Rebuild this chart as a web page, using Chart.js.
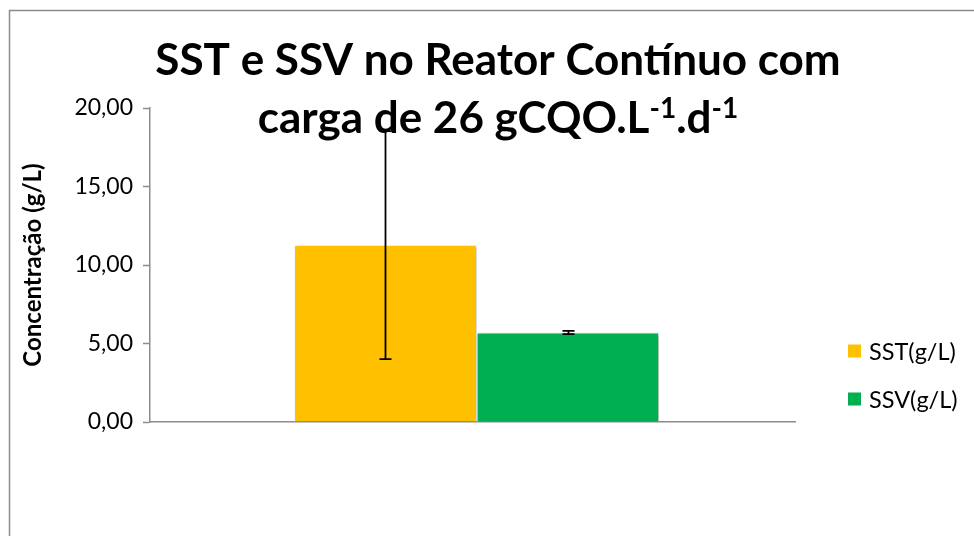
<!DOCTYPE html>
<html>
<head>
<meta charset="utf-8">
<script src="https://cdn.jsdelivr.net/npm/chart.js@4.4.0/dist/chart.umd.min.js"></script>
<style>
  body { margin: 0; background: #fff; }
</style>
</head>
<body>
<canvas id="graficoSST" width="974" height="536"></canvas>
<script>
// dados
var categorias = [''];
var series = ['SST(g/L)', 'SSV(g/L)'];
var valoresSST = [11.27];
var valoresSSV = [5.70];
var erroSST = [7.26];
var erroSSV = [0.10];
var ticksY = [0, 5, 10, 15, 20];
var tituloLinha1 = 'SST e SSV no Reator Contínuo com';
// pedacos da segunda linha: [texto, sobrescrito]
var tituloLinha2 = [['carga de 26 gCQO.L', false], ['-1', true], ['.d', false], ['-1', true]];
var tituloEixoY = 'Concentração (g/L)';

var cores = ['#FFC000', '#00B050'];
var erros = [erroSST, erroSSV];
var fonte = 'Lato';

// moldura do grafico (so aparece esquerda e topo)
var moldura = {
  id: 'moldura',
  beforeDraw: function(chart) {
    var ctx = chart.ctx;
    ctx.save();
    ctx.fillStyle = '#fff';
    ctx.fillRect(0, 0, chart.width, chart.height);
    ctx.strokeStyle = '#8c8c8c';
    ctx.lineWidth = 1.5;
    ctx.strokeRect(9.5, 10.5, 1000, 600);
    ctx.restore();
  }
};

// sombra das barras
var sombra = {
  id: 'sombra',
  beforeDatasetDraw: function(chart) {
    var ctx = chart.ctx;
    ctx.save();
    ctx.shadowColor = 'rgba(0,0,0,0.3)';
    ctx.shadowBlur = 4;
    ctx.shadowOffsetX = 2;
    ctx.shadowOffsetY = 1;
  },
  afterDatasetDraw: function(chart) {
    chart.ctx.restore();
  }
};

// barras de erro
var barrasErro = {
  id: 'barrasErro',
  afterDatasetsDraw: function(chart) {
    var ctx = chart.ctx;
    var y = chart.scales.y;
    ctx.save();
    ctx.strokeStyle = '#000';
    ctx.lineWidth = 1.8;
    chart.data.datasets.forEach(function(ds, d) {
      var meta = chart.getDatasetMeta(d);
      meta.data.forEach(function(barra, i) {
        var v = ds.data[i];
        var e = erros[d][i];
        var x = Math.round(barra.x) + 0.5;
        var yAlto = y.getPixelForValue(v + e);
        var yBaixo = y.getPixelForValue(v - e);
        ctx.beginPath();
        ctx.moveTo(x, yAlto);
        ctx.lineTo(x, yBaixo);
        ctx.moveTo(x - 6, yAlto);
        ctx.lineTo(x + 6, yAlto);
        ctx.moveTo(x - 6, yBaixo);
        ctx.lineTo(x + 6, yBaixo);
        ctx.stroke();
      });
    });
    ctx.restore();
  }
};

// titulo com sobrescritos e legenda
var tituloLegenda = {
  id: 'tituloLegenda',
  afterDraw: function(chart) {
    var ctx = chart.ctx;
    ctx.save();
    ctx.fillStyle = '#000';
    ctx.textBaseline = 'alphabetic';
    var centro = 498;
    ctx.font = 'bold 44px ' + fonte;
    ctx.textAlign = 'center';
    ctx.fillText(tituloLinha1, centro, 75);

    // segunda linha
    var larguras = tituloLinha2.map(function(p) {
      ctx.font = (p[1] ? 'bold 28px ' : 'bold 44px ') + fonte;
      return ctx.measureText(p[0]).width;
    });
    var total = larguras.reduce(function(a, b) { return a + b; }, 0);
    var x = centro - total / 2;
    ctx.textAlign = 'left';
    tituloLinha2.forEach(function(p, i) {
      ctx.font = (p[1] ? 'bold 28px ' : 'bold 44px ') + fonte;
      ctx.fillText(p[0], x, p[1] ? 118 : 133);
      x += larguras[i];
    });

    // legenda
    ctx.font = '23.5px ' + fonte;
    ctx.textBaseline = 'middle';
    chart.data.datasets.forEach(function(ds, d) {
      var yc = 351 + d * 48;
      ctx.fillStyle = ds.backgroundColor;
      ctx.fillRect(848, yc - 6.5, 13, 13);
      ctx.fillStyle = '#000';
      ctx.fillText(ds.label, 869, yc + 1);
    });
    ctx.restore();
  }
};

var ctx = document.getElementById('graficoSST').getContext('2d');
var grafico = new Chart(ctx, {
  type: 'bar',
  data: {
    labels: categorias,
    datasets: [{
      label: series[0],
      data: valoresSST,
      backgroundColor: cores[0],
      borderColor: '#ffffff',
      borderWidth: 1
    }, {
      label: series[1],
      data: valoresSSV,
      backgroundColor: cores[1],
      borderColor: '#ffffff',
      borderWidth: 1
    }]
  },
  options: {
    responsive: false,
    animation: false,
    categoryPercentage: 0.566,
    barPercentage: 1,
    layout: { padding: { left: 0, right: 179, top: 108, bottom: 114 } },
    plugins: {
      legend: { display: false },
      title: { display: false },
      tooltip: { enabled: false }
    },
    scales: {
      x: {
        grid: { display: false },
        border: { display: true, color: '#8c8c8c', width: 1.5 },
        ticks: { display: false },
        // desloca o grupo de barras um pouco para a direita, como no Excel
        afterDataLimits: function(s) { s.min = -0.0063; },
        afterFit: function(s) { s.height = 0; }
      },
      y: {
        min: 0,
        max: 20,
        afterBuildTicks: function(s) {
          s.ticks = ticksY.map(function(v) { return { value: v }; });
        },
        afterFit: function(s) { s.width = 150; },
        grid: {
          drawOnChartArea: false,
          drawTicks: true,
          tickLength: 7,
          tickColor: '#8c8c8c',
          tickWidth: 1.5
        },
        border: { display: true, color: '#8c8c8c', width: 1.5 },
        ticks: {
          color: '#000',
          padding: 10,
          font: { family: fonte, size: 23 },
          callback: function(v) { return v.toFixed(2).replace('.', ','); }
        },
        title: {
          display: true,
          text: tituloEixoY,
          color: '#000',
          font: { family: fonte, size: 24, weight: 'bold' },
          padding: { top: 19 }
        }
      }
    }
  },
  plugins: [moldura, sombra, barrasErro, tituloLegenda]
});
</script>
</body>
</html>
